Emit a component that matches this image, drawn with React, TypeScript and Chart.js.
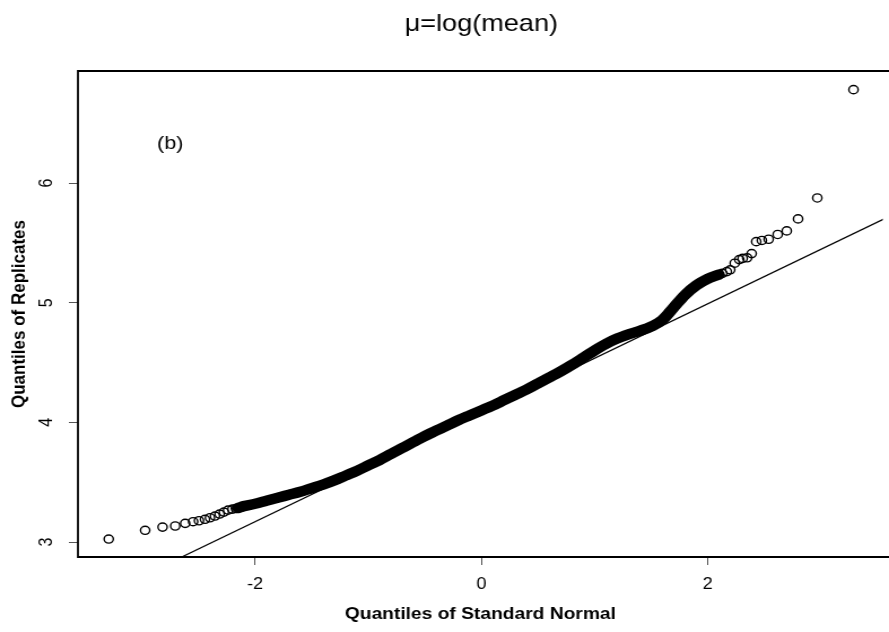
import React, { useEffect, useRef } from "react";
import { Chart, registerables } from "chart.js";

Chart.register(...registerables);

// ---- text ----
const TITLE = "μ=log(mean)";
const PANEL_TAG = "(b)";
const X_TITLE = "Quantiles of Standard Normal";
const Y_TITLE = "Quantiles of Replicates";

// ---- axes ----
const X_MIN = -3.566;
const X_MAX = 3.549; // visible part of the plot region
const R_X_MAX = 3.566; // plot region right edge (just beyond the canvas)
const Y_MIN = 2.875;
const Y_MAX = 6.936;
const X_TICK_STEP = 2;
const Y_TICK_STEP = 1;

// ---- data: sample quantiles vs. standard normal quantiles ----
const lowTailX = [-3.294, -2.972, -2.818, -2.706, -2.618, -2.548, -2.496, -2.443, -2.399, -2.355, -2.314, -2.276, -2.239, -2.2, -2.17];
const lowTailY = [3.025, 3.098, 3.125, 3.134, 3.156, 3.17, 3.178, 3.19, 3.203, 3.217, 3.234, 3.25, 3.267, 3.275, 3.28];

const bandX = [-2.15, -2.1, -2.0, -1.9, -1.8, -1.7, -1.6, -1.5, -1.4, -1.3, -1.2, -1.1, -1.0, -0.9, -0.8, -0.7, -0.6, -0.5, -0.4, -0.3, -0.2, -0.1, 0, 0.1, 0.2, 0.3, 0.4, 0.5, 0.6, 0.7, 0.8, 0.9, 1.0, 1.1, 1.2, 1.3, 1.4, 1.5, 1.6, 1.7, 1.8, 1.9, 2.0, 2.1];
const bandY = [3.285, 3.3, 3.32, 3.345, 3.37, 3.395, 3.42, 3.45, 3.48, 3.515, 3.555, 3.595, 3.64, 3.685, 3.735, 3.785, 3.835, 3.885, 3.93, 3.975, 4.02, 4.06, 4.1, 4.14, 4.185, 4.23, 4.275, 4.325, 4.375, 4.425, 4.48, 4.54, 4.6, 4.655, 4.7, 4.735, 4.765, 4.8, 4.855, 4.96, 5.065, 5.145, 5.2, 5.235];

const highTailX = [2.13, 2.17, 2.2, 2.24, 2.28, 2.31, 2.35, 2.39, 2.43, 2.48, 2.54, 2.62, 2.7, 2.8, 2.97, 3.29];
const highTailY = [5.245, 5.26, 5.275, 5.33, 5.36, 5.37, 5.375, 5.41, 5.51, 5.52, 5.53, 5.57, 5.6, 5.7, 5.875, 6.78];

// reference (qqline)
const LINE_INTERCEPT = 4.08;
const LINE_SLOPE = 0.455;

// panel tag position (data coordinates)
const TAG_X = -2.75;
const TAG_Y = 6.33;

const FONT = "'Liberation Sans', Arial, Helvetica, sans-serif";

const toPts = (xs: number[], ys: number[]) => xs.map((v, i) => ({ x: v, y: ys[i] }));

const rPlotPlugin = {
  id: "rPlot",
  afterDatasetsDraw(chart: any) {
    const { ctx, chartArea, scales } = chart;
    const { left, top, right, bottom } = chartArea;
    ctx.save();
    ctx.strokeStyle = "#000";
    ctx.lineWidth = 1.8;
    ctx.beginPath();
    ctx.moveTo(right + 6, top);
    ctx.lineTo(left, top);
    ctx.lineTo(left, bottom);
    ctx.lineTo(right + 6, bottom);
    ctx.stroke();

    ctx.fillStyle = "#000";
    ctx.textAlign = "center";
    ctx.textBaseline = "alphabetic";
    ctx.font = `24px ${FONT}`;
    ctx.fillText(TITLE, scales.x.getPixelForValue((X_MIN + R_X_MAX) / 2), 31);

    ctx.font = `19px ${FONT}`;
    ctx.textBaseline = "middle";
    ctx.fillText(PANEL_TAG, scales.x.getPixelForValue(TAG_X), scales.y.getPixelForValue(TAG_Y));
    ctx.restore();
  },
};

export default function App() {
  const ref = useRef<HTMLCanvasElement | null>(null);

  useEffect(() => {
    if (!ref.current) return;
    const circle = {
      showLine: false,
      pointStyle: "circle",
      pointRadius: 4.1,
      pointBorderWidth: 1.4,
      pointBorderColor: "#000",
      pointBackgroundColor: "rgba(0,0,0,0)",
      borderColor: "#000",
      backgroundColor: "rgba(0,0,0,0)",
    };
    const chart = new Chart(ref.current, {
      type: "scatter",
      data: {
        datasets: [
          {
            label: "qqline",
            data: [
              { x: X_MIN, y: LINE_INTERCEPT + LINE_SLOPE * X_MIN },
              { x: R_X_MAX, y: LINE_INTERCEPT + LINE_SLOPE * R_X_MAX },
            ],
            showLine: true,
            borderColor: "#000",
            borderWidth: 1.2,
            pointRadius: 0,
          } as any,
          {
            label: "band",
            data: toPts(bandX, bandY),
            showLine: true,
            borderColor: "#000",
            borderWidth: 10.5,
            pointRadius: 0,
            cubicInterpolationMode: "monotone",
            borderCapStyle: "round",
            borderJoinStyle: "round",
          } as any,
          { label: "low", data: toPts(lowTailX, lowTailY), ...circle } as any,
          { label: "high", data: toPts(highTailX, highTailY), ...circle } as any,
        ],
      },
      options: {
        responsive: false,
        animation: false,
        devicePixelRatio: 1,
        events: [],
        layout: { padding: { top: 71, left: 0, right: 0, bottom: 0 } },
        plugins: {
          legend: { display: false },
          tooltip: { enabled: false },
          title: { display: false },
        },
        scales: {
          x: {
            type: "linear",
            position: "bottom",
            min: X_MIN,
            max: X_MAX,
            border: { display: false },
            grid: {
              drawOnChartArea: false,
              drawTicks: true,
              tickLength: 8,
              tickColor: "#555",
              tickWidth: 1,
            },
            ticks: {
              stepSize: X_TICK_STEP,
              includeBounds: false,
              autoSkip: false,
              maxRotation: 0,
              color: "#000",
              padding: 10,
              font: { family: FONT, size: 16 },
              callback: (v: any) => String(v),
            },
            title: {
              display: true,
              text: X_TITLE,
              color: "#000",
              font: { family: FONT, size: 17, weight: "bold" },
              padding: { top: 0, bottom: 7 },
            },
            afterFit: (s: any) => {
              s.height = 75;
            },
          },
          y: {
            type: "linear",
            position: "left",
            min: Y_MIN,
            max: Y_MAX,
            border: { display: false },
            grid: {
              drawOnChartArea: false,
              drawTicks: true,
              tickLength: 8,
              tickColor: "#555",
              tickWidth: 1,
            },
            ticks: {
              stepSize: Y_TICK_STEP,
              includeBounds: false,
              autoSkip: false,
              minRotation: 90,
              maxRotation: 90,
              crossAlign: "center",
              color: "#000",
              padding: 15,
              font: { family: FONT, size: 16 },
              callback: (v: any) => String(v),
            },
            title: {
              display: true,
              text: Y_TITLE,
              color: "#000",
              font: { family: FONT, size: 17, weight: "bold" },
              padding: { top: 7, bottom: 0 },
            },
            afterFit: (s: any) => {
              s.width = 69;
            },
          },
        },
      } as any,
      plugins: [rPlotPlugin],
    });
    return () => chart.destroy();
  }, []);

  return (
    <div style={{ position: "fixed", left: 0, top: 0, width: 889, height: 632, background: "#fff" }}>
      <canvas ref={ref} width={787} height={632} style={{ width: "889px", height: "632px", display: "block" }} />
    </div>
  );
}
